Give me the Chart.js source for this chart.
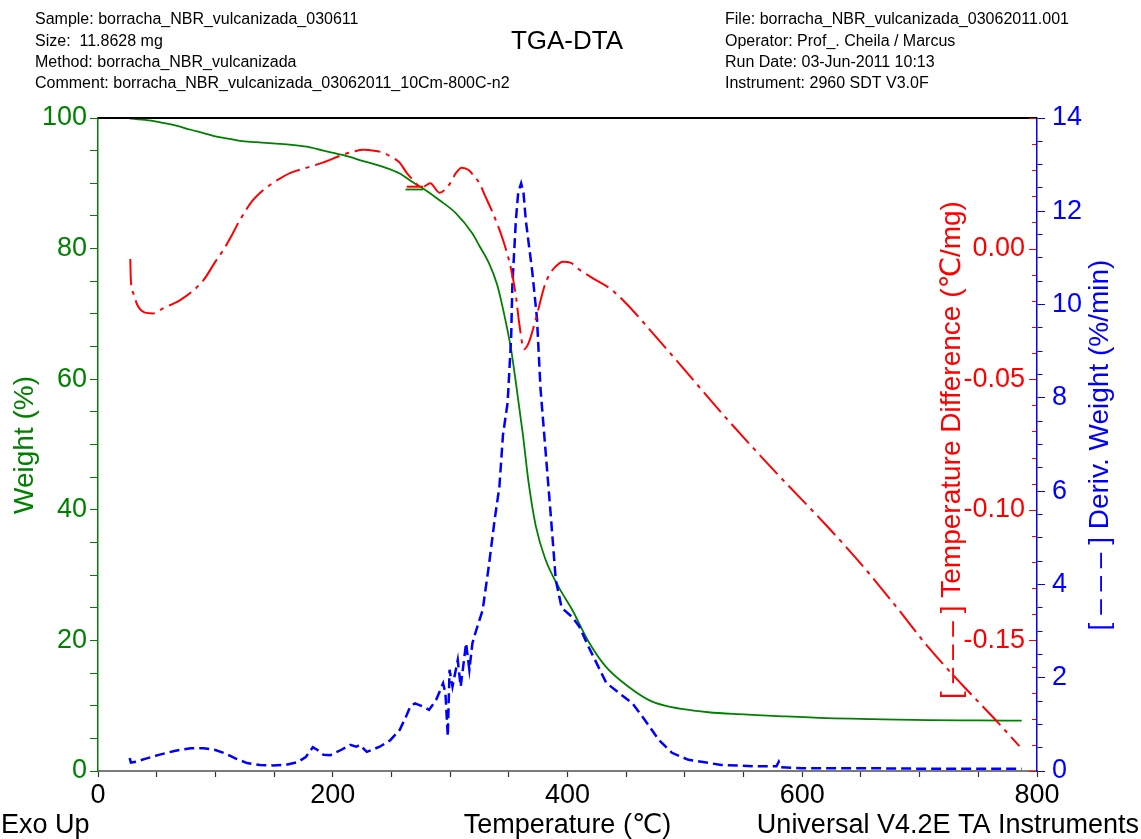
<!DOCTYPE html>
<html><head><meta charset="utf-8">
<script src="https://cdn.jsdelivr.net/npm/chart.js@4.4.1/dist/chart.umd.min.js"></script>
<style>html,body{margin:0;padding:0;background:#fff;overflow:hidden}canvas{display:block}</style>
</head><body>
<canvas id="c" width="1141" height="839"></canvas>
<script>
// ---- data ----
const weightT = [25, 28, 40, 51, 65, 79, 90, 102, 112, 121, 135, 149, 165, 178, 192, 209, 226, 243, 257, 268, 277, 291, 305, 319, 325, 333, 340, 345, 352, 356, 362, 367, 373, 381, 393, 404, 418, 433, 452, 469, 483, 497, 520, 545, 580, 621, 660, 707, 750, 787];
const weightPct = [100.0, 99.9, 99.7, 99.4, 98.9, 98.2, 97.7, 97.1, 96.8, 96.5, 96.3, 96.1, 95.9, 95.6, 95.0, 94.3, 93.4, 92.5, 91.5, 90.2, 89.2, 87.4, 85.4, 82.3, 80.4, 77.8, 74.5, 70.8, 64.5, 59.5, 51.5, 44.0, 37.5, 32.5, 28.0, 24.7, 19.8, 15.9, 12.9, 10.9, 10.0, 9.5, 9.0, 8.7, 8.4, 8.1, 7.95, 7.8, 7.75, 7.7];
const weightStubT = [262, 277];
const weightStubPct = [89.05, 89.05];

const dtaT = [27.5, 28, 30, 34, 40, 47, 55, 70, 80, 90, 100, 107, 115, 121, 131, 141, 152, 164, 178, 192, 209, 218, 226, 235, 243, 250, 257, 263, 268, 273, 277, 283, 291, 300, 305, 310, 316, 320, 325, 330, 336, 345, 352, 356, 359, 363, 367, 373, 381, 386, 390, 396, 403, 410, 424, 436, 450, 470, 493, 536, 579, 621, 650, 679, 707, 736, 764, 785];
const dtaVal = [-0.004, -0.012, -0.017, -0.022, -0.0245, -0.0248, -0.023, -0.0197, -0.0165, -0.012, -0.005, -0.0004, 0.006, 0.011, 0.018, 0.0225, 0.026, 0.029, 0.031, 0.033, 0.036, 0.0372, 0.0378, 0.0375, 0.0367, 0.035, 0.0329, 0.029, 0.0264, 0.024, 0.0237, 0.025, 0.0214, 0.025, 0.029, 0.031, 0.030, 0.028, 0.025, 0.020, 0.014, 0.0034, -0.008, -0.018, -0.029, -0.0385, -0.036, -0.027, -0.0135, -0.009, -0.0068, -0.005, -0.0055, -0.008, -0.012, -0.0152, -0.021, -0.031, -0.0429, -0.0653, -0.0864, -0.1062, -0.1207, -0.1365, -0.1524, -0.1669, -0.1801, -0.1905];
const dtaStubT = [263, 277];
const dtaStubVal = [0.0237, 0.0237];

const derivT = [27, 28, 33, 40, 51, 65, 79, 90, 100, 107, 117, 127, 138, 149, 160, 170, 177, 183, 187, 192, 198, 207, 215, 220, 223, 229, 240, 249, 257, 263, 266, 270, 277, 282, 288, 294, 296, 298, 299.5, 302, 306.5, 309, 313.6, 316.4, 319, 322, 327.7, 333, 338, 342, 345, 349, 352, 353, 356, 358, 360.5, 362.5, 364.5, 370, 374, 377, 381.5, 386, 390, 395, 404, 410, 418, 433, 444, 455, 466, 478, 489, 503, 531, 560, 578, 580, 582, 600, 650, 700, 750, 787];
const derivVal = [0.28, 0.18, 0.2, 0.26, 0.34, 0.43, 0.49, 0.49, 0.45, 0.39, 0.27, 0.17, 0.13, 0.12, 0.13, 0.19, 0.3, 0.51, 0.45, 0.35, 0.34, 0.45, 0.56, 0.52, 0.56, 0.41, 0.52, 0.66, 0.88, 1.2, 1.38, 1.45, 1.38, 1.31, 1.52, 1.88, 1.67, 0.74, 2.17, 1.81, 2.38, 1.81, 2.74, 2.17, 2.74, 3.0, 3.45, 4.4, 5.4, 6.1, 7.2, 7.9, 9.3, 10.4, 11.8, 12.4, 12.6, 12.4, 11.8, 10.7, 9.7, 8.2, 6.8, 5.4, 4.1, 3.5, 3.3, 3.1, 2.66, 1.89, 1.67, 1.46, 1.09, 0.66, 0.39, 0.24, 0.13, 0.1, 0.1, 0.2, 0.08, 0.06, 0.06, 0.05, 0.05, 0.05];

const xTickLabels = [0, 200, 400, 600, 800];
const weightTickLabels = [0, 20, 40, 60, 80, 100];
const dtaTickLabels = ['0.00', '-0.05', '-0.10', '-0.15'];
const derivTickLabels = [0, 2, 4, 6, 8, 10, 12, 14];

const headerLeft = ['Sample: borracha_NBR_vulcanizada_030611', 'Size:  11.8628 mg', 'Method: borracha_NBR_vulcanizada', 'Comment: borracha_NBR_vulcanizada_03062011_10Cm-800C-n2'];
const headerRight = ['File: borracha_NBR_vulcanizada_03062011.001', 'Operator: Prof_. Cheila / Marcus', 'Run Date: 03-Jun-2011 10:13', 'Instrument: 2960 SDT V3.0F'];
const chartTitle = 'TGA-DTA';
const xTitle = 'Temperature (\u2103)';
const yTitle = 'Weight (%)';
const dtaTitle = '[ \u2013 \u2013 \u2013 ] Temperature Difference (\u2103/mg)';
const derivTitle = '[ \u2013 \u2013 \u2013 ] Deriv. Weight (%/min)';
const footLeft = 'Exo Up';
const footRight = 'Universal V4.2E TA Instruments';

// ---- styling ----
const FONT = "'Liberation Sans', Arial, 'DejaVu Sans', sans-serif";
const GREEN = '#008000', RED = '#ff0000', BLUE = '#0000ff';
const pts = (xs, ys) => xs.map((x, i) => ({x, y: ys[i]}));
const near = (v, arr) => arr.some(a => Math.abs(v - a) < 1e-6);

const textPlugin = {
  id: 'texts',
  afterDraw(chart) {
    const ctx = chart.ctx, a = chart.chartArea;
    ctx.save();
    ctx.strokeStyle = '#000'; ctx.lineWidth = 2;
    ctx.beginPath(); ctx.moveTo(a.left, a.top); ctx.lineTo(a.right, a.top); ctx.stroke();
    // red DTA tick marks, inside the right edge, using the DTA scale
    const sd = chart.scales.yDTA;
    ctx.strokeStyle = RED; ctx.lineWidth = 1;
    for (let r = -20; r <= 5; r++) {
      const y = Math.round(sd.getPixelForValue(r / 100)) + 0.5;
      const len = (r % 5 === 0) ? 7 : 4;
      ctx.beginPath(); ctx.moveTo(a.right - 1 - len, y); ctx.lineTo(a.right - 1, y); ctx.stroke();
    }
    ctx.fillStyle = '#000'; ctx.textBaseline = 'middle';
    ctx.font = '16px ' + FONT; ctx.textAlign = 'left';
    headerLeft.forEach((s, i) => ctx.fillText(s, 35, 20 + i * 21.3));
    headerRight.forEach((s, i) => ctx.fillText(s, 725, 20 + i * 21.3));
    ctx.font = '26px ' + FONT; ctx.textAlign = 'center'; ctx.fillText(chartTitle, 567, 42);
    ctx.font = '27px ' + FONT;
    ctx.textAlign = 'left'; ctx.fillText(footLeft, 1, 826);
    ctx.textAlign = 'center'; ctx.fillText(xTitle, (a.left + a.right) / 2, 826);
    ctx.textAlign = 'right'; ctx.fillText(footRight, 1139, 826);
    const rot = (txt, x, y, color) => { ctx.save(); ctx.translate(x, y); ctx.rotate(-Math.PI / 2); ctx.fillStyle = color; ctx.textAlign = 'center'; ctx.fillText(txt, 0, 0); ctx.restore(); };
    ctx.font = '28px ' + FONT;
    rot(yTitle, 25, 445, GREEN);
    rot(dtaTitle, 952, 450, RED);
    rot(derivTitle, 1100, 445, BLUE);
    ctx.restore();
  }
};

new Chart(document.getElementById('c'), {
  type: 'line',
  data: {
    datasets: [
      {data: pts(dtaT, dtaVal), yAxisID: 'yDTA', borderColor: RED, borderWidth: 2, borderDash: [26, 6, 4, 6], cubicInterpolationMode: 'monotone'},
      {data: pts(dtaStubT, dtaStubVal), yAxisID: 'yDTA', borderColor: RED, borderWidth: 2},
      {data: pts(derivT, derivVal), yAxisID: 'yDeriv', borderColor: BLUE, borderWidth: 2.5, borderDash: [10, 5], tension: 0},
      {data: pts(weightT, weightPct), yAxisID: 'y', borderColor: GREEN, borderWidth: 1.8, cubicInterpolationMode: 'monotone'},
      {data: pts(weightStubT, weightStubPct), yAxisID: 'y', borderColor: GREEN, borderWidth: 1.8}
    ]
  },
  options: {
    responsive: false, animation: false, devicePixelRatio: 1,
    layout: {padding: {top: 118, left: 0, right: 0, bottom: 0}},
    elements: {point: {radius: 0}, line: {fill: false}},
    plugins: {legend: {display: false}, tooltip: {enabled: false}, title: {display: false}},
    scales: {
      x: {
        type: 'linear', position: 'bottom', min: 0, max: 800,
        ticks: {stepSize: 50, maxTicksLimit: 100, autoSkip: false, maxRotation: 0, padding: 2, color: '#000', font: {family: FONT, size: 27},
          callback: v => near(v, xTickLabels) ? String(v) : ''},
        grid: {drawOnChartArea: false, drawTicks: true, tickLength: 6, tickColor: '#333', tickWidth: 1.2},
        border: {display: true, color: '#7a7a7a', width: 2},
        afterFit: s => { s.height = 68; }
      },
      y: {
        position: 'left', min: 0, max: 100,
        ticks: {stepSize: 5, maxTicksLimit: 100, autoSkip: false, padding: 3, color: GREEN, font: {family: FONT, size: 27},
          callback: v => near(v, weightTickLabels) ? String(v) : ''},
        grid: {drawOnChartArea: false, drawTicks: true, tickLength: 8, tickColor: GREEN, tickWidth: 1},
        border: {display: true, color: GREEN, width: 1.5},
        afterFit: s => { s.width = 98; }
      },
      yDTA: {
        position: 'right', min: -0.2, max: 0.05,
        ticks: {stepSize: 0.01, maxTicksLimit: 100, autoSkip: false, mirror: true, padding: -12, color: RED, font: {family: FONT, size: 27},
          callback: v => { const r = Math.round(v * 100); return (r % 5 === 0 && r <= 0 && r >= -15) ? (r / 100).toFixed(2) : ''; }},
        grid: {drawOnChartArea: false, drawTicks: false},
        border: {display: false},
        afterFit: s => { s.width = 0; }
      },
      yDeriv: {
        position: 'right', min: 0, max: 14,
        ticks: {stepSize: 0.5, maxTicksLimit: 100, autoSkip: false, padding: 7, color: BLUE, font: {family: FONT, size: 27},
          callback: v => near(v, derivTickLabels) ? String(v) : ''},
        grid: {drawOnChartArea: false, drawTicks: true, tickLength: 8, tickColor: BLUE, tickWidth: 1,
          tickBorderDash: c => (Math.abs(c.tick.value % 2) < 1e-6) ? [] : [5, 40]},
        border: {display: true, color: BLUE, width: 1.5},
        afterFit: s => { s.width = 104; }
      }
    }
  },
  plugins: [textPlugin]
});
</script>
</body></html>
